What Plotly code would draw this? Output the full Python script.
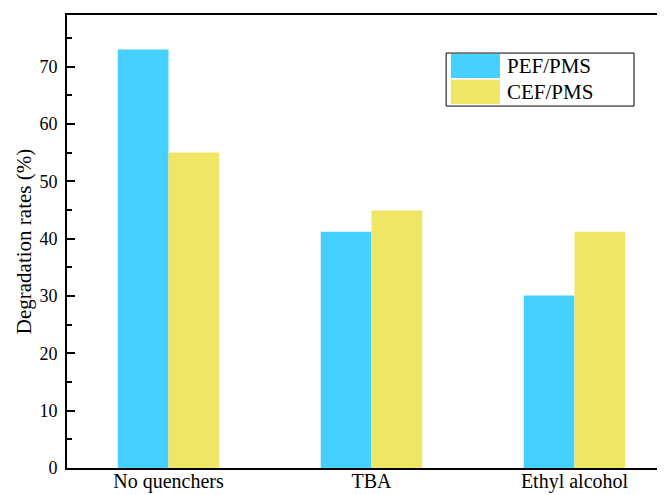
import plotly.graph_objects as go

categories = ["No quenchers", "TBA", "Ethyl alcohol"]
series_names = ["PEF/PMS", "CEF/PMS"]
pef_values = [73.0, 41.2, 30.1]
cef_values = [55.0, 44.9, 41.2]
colors = ["#46D0FF", "#EFE666"]
y_title = "Degradation rates (%)"

FONT = "Liberation Serif"

fig = go.Figure()
for name, vals, col in zip(series_names, [pef_values, cef_values], colors):
    fig.add_trace(go.Bar(x=categories, y=vals, name=name, marker=dict(color=col, line=dict(width=0)),
                         showlegend=False))

# page body has an 8px default margin, so the figure is sized/offset to compensate
fig.update_layout(
    width=657, height=487,
    margin=dict(l=59, r=0, t=7, b=27),
    paper_bgcolor="white", plot_bgcolor="white",
    barmode="group", bargap=0.5, bargroupgap=0,
    font=dict(family=FONT, color="black"),
)
fig.update_xaxes(
    type="category", range=[-0.5, 2.446],
    showline=True, linecolor="black", linewidth=2, mirror=True,
    ticks="", showgrid=False, zeroline=False, automargin=False, ticklabelstandoff=-6,
    tickfont=dict(family=FONT, size=20, color="black"),
)
fig.update_yaxes(
    range=[0, 79], dtick=10, tick0=0,
    showline=True, linecolor="black", linewidth=2, mirror=False,
    ticks="inside", ticklen=8, tickwidth=2, tickcolor="black",
    minor=dict(ticks="inside", ticklen=5, tickwidth=2, tickcolor="black", dtick=5, tick0=0, showgrid=False),
    showgrid=False, zeroline=False, automargin=False, ticklabelstandoff=4,
    tickfont=dict(family=FONT, size=18, color="black"),
    title=dict(text=y_title, font=dict(family=FONT, size=21, color="black"), standoff=2),
)

# custom legend with large swatches
fig.add_shape(type="rect", xref="paper", yref="paper", x0=0.634, x1=0.9482, y0=0.799, y1=0.916,
              line=dict(color="black", width=1), fillcolor="white", layer="above")
sw = [(0.914, 0.861, 0.887), (0.857, 0.8035, 0.830)]
for (y1, y0, yc), name, col in zip(sw, series_names, colors):
    fig.add_shape(type="rect", xref="paper", yref="paper", x0=0.642, x1=0.724, y0=y0, y1=y1,
                  line=dict(width=0), fillcolor=col, layer="above")
    fig.add_annotation(xref="paper", yref="paper", x=0.7324, y=yc, text=name, showarrow=False,
                       xanchor="left", yanchor="middle", font=dict(family=FONT, size=21, color="black"))

fig.write_html("out.html")
